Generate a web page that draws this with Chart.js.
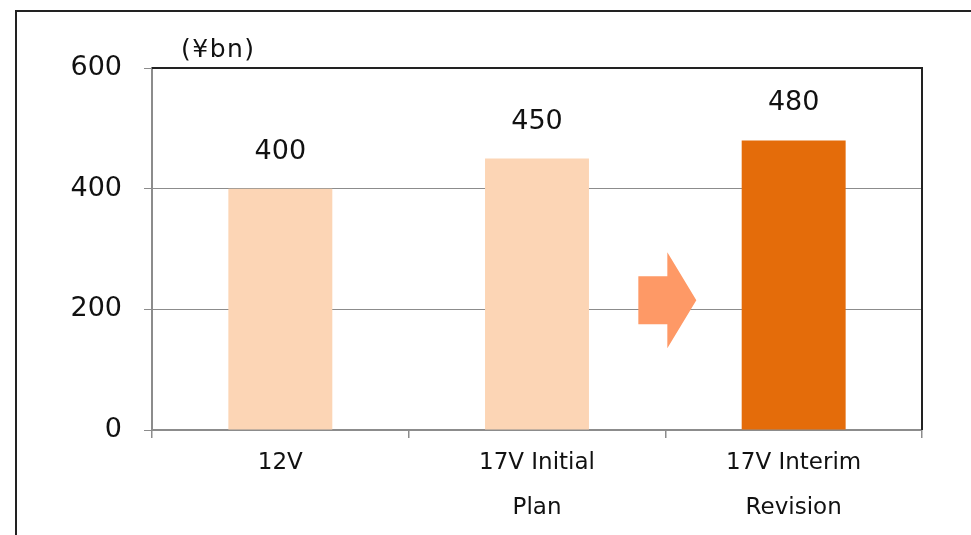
<!DOCTYPE html>
<html>
<head>
<meta charset="utf-8">
<script src="https://cdn.jsdelivr.net/npm/chart.js@4/dist/chart.umd.min.js"></script>
<style>
  html, body { margin: 0; padding: 0; background: #fff; overflow: hidden; }
  #wrap { position: relative; width: 971px; height: 535px; }
  #frame {
    position: absolute; left: 15px; top: 10px; width: 1000px; height: 600px;
    border: 2px solid #222; box-sizing: border-box;
  }
  #salesChart { position: absolute; left: 0; top: 0; }
</style>
</head>
<body>
<div id="wrap">
  <div id="frame"></div>
  <canvas id="salesChart" width="971" height="535"></canvas>
</div>
<script>
const categories = [["12V"], ["17V Initial", "Plan"], ["17V Interim", "Revision"]];
const values = [400, 450, 480];
const barColors = ["#FCD5B5", "#FCD5B5", "#E46C0A"];
const yTicks = [0, 200, 400, 600];
const unitLabel = "(¥bn)";

const FONT = "'DejaVu Sans', Verdana, sans-serif";
const gray = "#8c8c8c";

// value text above each bar, unit label, plot frame and the arrow
const extras = {
    id: "extras",
    afterDraw(chart) {
        const ctx = chart.ctx;
        const area = chart.chartArea;
        const x = chart.scales.x;
        const y = chart.scales.y;

        ctx.save();

        // top and right edges of the plot area
        ctx.strokeStyle = "#222";
        ctx.lineWidth = 2;
        ctx.beginPath();
        ctx.moveTo(area.left, area.top);
        ctx.lineTo(area.right, area.top);
        ctx.lineTo(area.right, area.bottom);
        ctx.stroke();

        // arrow between the initial plan and the revision
        const cx = (x.getPixelForValue(1) + x.getPixelForValue(2)) / 2 + 2;
        const cy = y.getPixelForValue(215);
        ctx.fillStyle = "#FE9966";
        ctx.beginPath();
        ctx.moveTo(cx - 29, cy - 24);
        ctx.lineTo(cx, cy - 24);
        ctx.lineTo(cx, cy - 48);
        ctx.lineTo(cx + 29, cy);
        ctx.lineTo(cx, cy + 48);
        ctx.lineTo(cx, cy + 24);
        ctx.lineTo(cx - 29, cy + 24);
        ctx.closePath();
        ctx.fill();

        // data values
        ctx.fillStyle = "#111";
        ctx.font = "27px " + FONT;
        ctx.textAlign = "center";
        ctx.textBaseline = "middle";
        const meta = chart.getDatasetMeta(0);
        meta.data.forEach((bar, i) => {
            ctx.fillText(String(values[i]), bar.x, bar.y - 37);
        });

        // unit
        ctx.font = "25px " + FONT;
        ctx.letterSpacing = "1.5px";
        ctx.textAlign = "left";
        ctx.fillText(unitLabel, area.left + 29, area.top - 18);

        ctx.restore();
    }
};

new Chart(document.getElementById("salesChart"), {
    type: "bar",
    data: {
        labels: categories,
        datasets: [{
            data: values,
            backgroundColor: barColors,
            borderWidth: 0,
            categoryPercentage: 1,
            barPercentage: 0.405
        }]
    },
    options: {
        responsive: false,
        animation: false,
        layout: { padding: { top: 68, right: 49, left: 0, bottom: 0 } },
        plugins: {
            legend: { display: false },
            tooltip: { enabled: false }
        },
        scales: {
            x: {
                grid: {
                    drawOnChartArea: false,
                    drawTicks: true,
                    tickLength: 8,
                    color: gray,
                    lineWidth: 1.5
                },
                border: { color: gray, width: 2 },
                ticks: {
                    color: "#111",
                    font: { family: FONT, size: 23, lineHeight: 1.96 },
                    padding: 2,
                    maxRotation: 0,
                    autoSkip: false
                },
                afterFit(scale) { scale.height = 105; }
            },
            y: {
                min: 0,
                max: 600,
                afterBuildTicks(scale) {
                    scale.ticks = yTicks.map(v => ({ value: v }));
                },
                grid: {
                    color: ctx => (ctx.tick && ctx.tick.value === 600) ? "rgba(0,0,0,0)" : gray,
                    tickColor: gray,
                    tickLength: 8,
                    lineWidth: 1
                },
                border: { color: gray, width: 2 },
                ticks: {
                    color: "#111",
                    font: { family: FONT, size: 27 },
                    padding: 22
                },
                afterFit(scale) { scale.width = 152; }
            }
        }
    },
    plugins: [extras]
});
</script>
</body>
</html>
